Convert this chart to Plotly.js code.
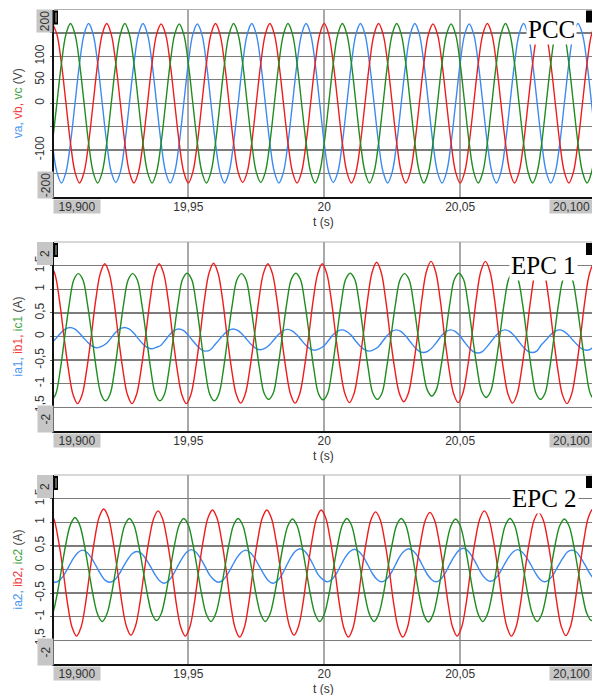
<!DOCTYPE html>
<html>
<head>
<meta charset="utf-8">
<script src="https://cdn.plot.ly/plotly-3.0.1.min.js"></script>
<style>
  html, body { margin: 0; padding: 0; background: #ffffff; }
  #chart { width: 592px; height: 695px; }
</style>
</head>
<body>
<div id="chart"></div>
<script>
// ---------------- DATA ----------------
// Samples every 30 degrees of a 50 Hz cycle (1/600 s); each series has its own start time.
const SAMPLE_DT = 0.02 / 12;

// PCC voltages (V)
const va_t0 = 19.9, vb_t0 = 19.9, vc_t0 = 19.9;
const va = [
  -85,-147,-170,-147,-85,0,85,147,170,147,85,0,
  -85,-147,-169,-147,-85,0,85,147,170,147,85,0,
  -85,-147,-170,-147,-85,0,85,147,169,147,85,0,
  -85,-147,-170,-147,-85,0,85,147,170,147,85,0,
  -85,-147,-170,-147,-85,0,85,147,170,147,85,0,
  -85,-147,-169,-147,-85,0,85,147,170,147,85,0,
  -85,-147,-170,-147,-85,0,85,147,170,147,85,0,
  -85,-147,-170,-147,-85,0,85,147,169,147,85,0,
  -85,-147,-170,-147,-85,0,85,147,170,147,85,0,
  -85,-147,-170,-147,-85,0,85,147,170,147,85,0,
  -85,-147,-170
];
const vb = [
  170,147,85,0,-85,-147,-170,-147,-85,0,85,147,
  170,147,85,0,-85,-147,-170,-147,-85,0,85,147,
  169,147,85,0,-85,-147,-170,-147,-85,0,85,147,
  170,147,85,0,-85,-147,-169,-147,-85,0,85,147,
  170,147,85,0,-85,-147,-170,-147,-85,0,85,147,
  170,147,85,0,-85,-147,-170,-147,-85,0,85,147,
  170,147,85,0,-85,-147,-170,-147,-85,0,85,147,
  169,147,85,0,-85,-147,-170,-147,-85,0,85,147,
  170,147,85,0,-85,-147,-170,-147,-85,0,85,147,
  170,147,85,0,-85,-147,-170,-147,-85,0,85,147,
  170,147,85
];
const vc = [
  -85,0,85,147,170,147,85,0,-85,-147,-170,-147,
  -85,0,85,147,170,147,85,0,-85,-147,-170,-147,
  -85,0,85,147,169,147,85,0,-85,-147,-170,-147,
  -85,0,85,147,170,147,85,0,-85,-147,-169,-147,
  -85,0,85,147,170,147,85,0,-85,-147,-170,-147,
  -85,0,85,147,170,147,85,0,-85,-147,-170,-147,
  -85,0,85,147,170,147,85,0,-85,-147,-170,-147,
  -85,0,85,147,169,147,85,0,-85,-147,-170,-147,
  -85,0,85,147,170,147,85,0,-85,-147,-170,-147,
  -85,0,85,147,170,147,85,0,-85,-147,-170,-147,
  -85,0,85
];

// EPC 1 currents (A)
const ia1_t0 = 19.89983, ib1_t0 = 19.89928, ic1_t0 = 19.89956;
const ia1 = [
  -0.13,-0.03,0.08,0.16,0.19,0.16,0.08,-0.03,-0.13,-0.21,-0.24,-0.21,
  -0.15,-0.04,0.08,0.16,0.19,0.16,0.08,-0.04,-0.15,-0.23,-0.26,-0.23,
  -0.19,-0.08,0.04,0.13,0.16,0.13,0.04,-0.08,-0.19,-0.28,-0.31,-0.28,
  -0.17,-0.06,0.05,0.13,0.16,0.13,0.05,-0.06,-0.17,-0.25,-0.28,-0.25,
  -0.18,-0.07,0.04,0.12,0.15,0.12,0.04,-0.07,-0.18,-0.26,-0.29,-0.26,
  -0.20,-0.09,0.03,0.11,0.14,0.11,0.03,-0.09,-0.20,-0.28,-0.31,-0.28,
  -0.22,-0.10,0.02,0.11,0.14,0.11,0.02,-0.10,-0.22,-0.31,-0.34,-0.31,
  -0.23,-0.11,0.02,0.11,0.14,0.11,0.02,-0.11,-0.23,-0.32,-0.35,-0.32,
  -0.22,-0.10,0.02,0.11,0.14,0.11,0.02,-0.10,-0.22,-0.31,-0.34,-0.31,
  -0.18,-0.08,0.03,0.11,0.14,0.11,0.03,-0.08,-0.18,-0.26,-0.29,-0.26,
  -0.17,-0.07,0.04
];
const ib1 = [
  1.52,1.32,0.76,0,-0.71,-1.23,-1.42,-1.23,-0.71,0,0.77,1.33,
  1.54,1.33,0.77,0,-0.71,-1.23,-1.42,-1.23,-0.71,0,0.77,1.33,
  1.54,1.33,0.77,0,-0.71,-1.23,-1.42,-1.23,-0.71,0,0.78,1.34,
  1.55,1.34,0.78,0,-0.70,-1.22,-1.41,-1.22,-0.70,0,0.77,1.33,
  1.54,1.33,0.77,0,-0.70,-1.22,-1.41,-1.22,-0.70,0,0.77,1.33,
  1.54,1.33,0.77,0,-0.70,-1.21,-1.40,-1.21,-0.70,0,0.78,1.36,
  1.57,1.36,0.78,0,-0.69,-1.20,-1.38,-1.20,-0.69,0,0.80,1.38,
  1.59,1.38,0.80,0,-0.70,-1.21,-1.40,-1.21,-0.70,0,0.80,1.38,
  1.59,1.38,0.80,0,-0.70,-1.22,-1.41,-1.22,-0.70,0,0.78,1.36,
  1.57,1.36,0.78,0,-0.71,-1.23,-1.42,-1.23,-0.71,0,0.78,1.34,
  1.55,1.34,0.78
];
const ic1 = [
  -1.36,-1.22,-0.71,0,0.69,1.20,1.33,1.20,0.69,0,-0.71,-1.22,
  -1.36,-1.22,-0.71,0,0.69,1.20,1.33,1.20,0.69,0,-0.71,-1.22,
  -1.36,-1.22,-0.71,0,0.70,1.21,1.34,1.21,0.70,0,-0.71,-1.22,
  -1.36,-1.22,-0.71,0,0.69,1.20,1.33,1.20,0.69,0,-0.69,-1.20,
  -1.33,-1.20,-0.69,0,0.70,1.21,1.34,1.21,0.70,0,-0.70,-1.21,
  -1.34,-1.21,-0.70,0,0.70,1.21,1.34,1.21,0.70,0,-0.69,-1.20,
  -1.33,-1.20,-0.69,0,0.69,1.20,1.33,1.20,0.69,0,-0.66,-1.13,
  -1.26,-1.13,-0.66,0,0.70,1.21,1.34,1.21,0.70,0,-0.67,-1.16,
  -1.29,-1.16,-0.67,0,0.71,1.22,1.36,1.22,0.71,0,-0.69,-1.20,
  -1.33,-1.20,-0.69,0,0.70,1.21,1.34,1.21,0.70,0,-0.70,-1.21,
  -1.34,-1.21,-0.70
];

// EPC 2 currents (A)
const ia2_t0 = 19.89944, ib2_t0 = 19.89889, ic2_t0 = 19.89833;
const ia2 = [
  -0.22,-0.27,-0.22,-0.10,0.07,0.24,0.36,0.41,0.36,0.24,0.07,-0.10,
  -0.23,-0.27,-0.23,-0.11,0.06,0.22,0.34,0.38,0.34,0.22,0.06,-0.11,
  -0.24,-0.29,-0.24,-0.11,0.07,0.24,0.37,0.42,0.37,0.24,0.07,-0.11,
  -0.22,-0.27,-0.22,-0.10,0.07,0.24,0.36,0.41,0.36,0.24,0.07,-0.10,
  -0.24,-0.29,-0.24,-0.11,0.08,0.26,0.39,0.44,0.39,0.26,0.08,-0.11,
  -0.21,-0.26,-0.21,-0.09,0.09,0.26,0.38,0.43,0.38,0.26,0.09,-0.09,
  -0.21,-0.26,-0.21,-0.09,0.09,0.27,0.39,0.44,0.39,0.27,0.09,-0.09,
  -0.21,-0.26,-0.21,-0.08,0.10,0.27,0.40,0.45,0.40,0.27,0.10,-0.08,
  -0.20,-0.25,-0.20,-0.08,0.09,0.25,0.37,0.42,0.37,0.25,0.09,-0.08,
  -0.21,-0.26,-0.21,-0.09,0.08,0.24,0.37,0.41,0.37,0.24,0.08,-0.09,
  -0.21,-0.26,-0.21
];
const ib2 = [
  1.24,1.07,0.62,0,-0.71,-1.22,-1.41,-1.22,-0.71,0,0.64,1.11,
  1.28,1.11,0.64,0,-0.70,-1.20,-1.39,-1.20,-0.70,0,0.62,1.07,
  1.24,1.07,0.62,0,-0.71,-1.22,-1.41,-1.22,-0.71,0,0.63,1.09,
  1.26,1.09,0.63,0,-0.72,-1.24,-1.43,-1.24,-0.72,0,0.63,1.09,
  1.26,1.09,0.63,0,-0.70,-1.20,-1.39,-1.20,-0.70,0,0.63,1.09,
  1.26,1.09,0.63,0,-0.72,-1.24,-1.43,-1.24,-0.72,0,0.61,1.06,
  1.22,1.06,0.61,0,-0.72,-1.24,-1.43,-1.24,-0.72,0,0.61,1.05,
  1.21,1.05,0.61,0,-0.71,-1.22,-1.41,-1.22,-0.71,0,0.62,1.07,
  1.24,1.07,0.62,0,-0.71,-1.22,-1.41,-1.22,-0.71,0,0.61,1.05,
  1.21,1.05,0.61,0,-0.70,-1.21,-1.40,-1.21,-0.70,0,0.64,1.11,
  1.28,1.11,0.64
];
const ic2 = [
  -1.10,-0.95,-0.55,0,0.55,0.95,1.10,0.95,0.55,0,-0.55,-0.95,
  -1.10,-0.95,-0.55,0,0.54,0.94,1.08,0.94,0.54,0,-0.54,-0.94,
  -1.08,-0.94,-0.54,0,0.54,0.94,1.08,0.94,0.54,0,-0.55,-0.95,
  -1.10,-0.95,-0.55,0,0.54,0.94,1.08,0.94,0.54,0,-0.55,-0.95,
  -1.10,-0.95,-0.55,0,0.54,0.93,1.07,0.93,0.54,0,-0.55,-0.95,
  -1.10,-0.95,-0.55,0,0.54,0.94,1.08,0.94,0.54,0,-0.55,-0.95,
  -1.10,-0.95,-0.55,0,0.54,0.94,1.08,0.94,0.54,0,-0.56,-0.96,
  -1.11,-0.96,-0.56,0,0.54,0.93,1.07,0.93,0.54,0,-0.55,-0.95,
  -1.10,-0.95,-0.55,0,0.54,0.94,1.08,0.94,0.54,0,-0.55,-0.95,
  -1.10,-0.95,-0.55,0,0.54,0.93,1.07,0.93,0.54,0,-0.54,-0.94,
  -1.08,-0.94,-0.54
];

// Axis ticks and labels
const timeTickVals = [19.95, 20, 20.05];
const timeTickText = ['19,95', '20', '20,05'];
const timeRangeLabels = ['19,900', '20,100'];
const timeTitle = 't (s)';
const vTickVals = [150, 100, 50, 0, -50, -100, -150];
const vTickText = ['', '100', '50', '0', '', '-100', ''];
const vRangeLabels = ['200', '-200'];
const iTickVals = [1.5, 1, 0.5, 0, -0.5, -1, -1.5];
const iTickText = ['1,5', '1', '0,5', '0', '-0,5', '-1', '-1,5'];
const iRangeLabels = ['2', '-2'];
const panelNames = ['PCC', 'EPC 1', 'EPC 2'];

// ---------------- STYLE / LAYOUT ----------------
const W = 592, H = 695;
const px = v => v / W;
const py = v => 1 - v / H;
const BLUE = '#3a8af2', RED = '#ee1c1c', GREEN = '#1e8c1e';
const TBLUE = '#4a95ee', TRED = '#f04040', TGREEN = '#3fa33f';
const LEFT = 54;
const panels = [
  { top: 9.5, bottom: 197, range: [-200, 200], tv: vTickVals, tt: vTickText, rl: vRangeLabels,
    title: `<span style="color:${TBLUE}">va, </span><span style="color:${TRED}">vb, </span><span style="color:${TGREEN}">vc</span> (V)`,
    nameX: 551, nameY: 30 },
  { top: 242, bottom: 431, range: [-2, 2], tv: iTickVals, tt: iTickText, rl: iRangeLabels,
    title: `<span style="color:${TBLUE}">ia1, </span><span style="color:${TRED}">ib1, </span><span style="color:${TGREEN}">ic1</span> (A)`,
    nameX: 543, nameY: 265 },
  { top: 475, bottom: 664, range: [-2, 2], tv: iTickVals, tt: iTickText, rl: iRangeLabels,
    title: `<span style="color:${TBLUE}">ia2, </span><span style="color:${TRED}">ib2, </span><span style="color:${TGREEN}">ic2</span> (A)`,
    nameX: 544, nameY: 498 }
];

const seriesSets = [
  [[va, va_t0, BLUE], [vb, vb_t0, RED], [vc, vc_t0, GREEN]],
  [[ia1, ia1_t0, BLUE], [ib1, ib1_t0, RED], [ic1, ic1_t0, GREEN]],
  [[ia2, ia2_t0, BLUE], [ib2, ib2_t0, RED], [ic2, ic2_t0, GREEN]]
];

const traces = [];
seriesSets.forEach((set, i) => {
  const sfx = i === 0 ? '' : String(i + 1);
  set.forEach(([y, t0, color]) => {
    traces.push({
      type: 'scatter', mode: 'lines',
      x0: t0, dx: SAMPLE_DT, y: y,
      xaxis: 'x' + sfx, yaxis: 'y' + sfx,
      line: { color: color, width: 1.4, shape: 'spline', smoothing: 1 },
      hoverinfo: 'skip', showlegend: false
    });
  });
});

const tickFont = { family: 'Liberation Sans, Arial, sans-serif', size: 12, color: '#333' };
const layout = {
  width: W, height: H,
  margin: { l: 0, r: 0, t: 0, b: 0 },
  paper_bgcolor: '#ffffff', plot_bgcolor: '#ffffff',
  showlegend: false,
  annotations: [], shapes: []
};

panels.forEach((p, i) => {
  const sfx = i === 0 ? '' : String(i + 1);
  const dom = [py(p.bottom), py(p.top)];
  layout['xaxis' + sfx] = {
    domain: [px(LEFT), 1], range: [19.9006, 20.0985], anchor: 'y' + sfx,
    tickvals: timeTickVals, ticktext: timeTickText, tickfont: tickFont,
    ticklabelstandoff: -2,
    showgrid: true, gridcolor: '#a9a9a9', gridwidth: 2,
    showline: true, linecolor: '#111', linewidth: 2,
    ticks: '', zeroline: false, automargin: false, fixedrange: true
  };
  layout['yaxis' + sfx] = {
    domain: dom, range: p.range, anchor: 'x' + sfx,
    tickvals: p.tv, ticktext: p.tt, tickfont: tickFont, tickangle: -90,
    showgrid: true, gridcolor: '#7c7c7c', gridwidth: 1.3,
    showline: true, linecolor: '#111', linewidth: 2,
    ticks: 'outside', ticklen: 2, tickcolor: '#666', tickwidth: 1,
    ticklabelstandoff: 1,
    zeroline: false, automargin: false, fixedrange: true,
    title: { text: p.title, font: { family: 'Liberation Sans, Arial, sans-serif', size: 12, color: '#444' }, standoff: 8 }
  };
  // time-axis title, placed under the tick labels as in the reference
  layout.annotations.push({ xref: 'paper', yref: 'paper', x: px((LEFT + W) / 2), y: py(p.bottom + 25),
    text: timeTitle, showarrow: false, font: tickFont, borderpad: 0, xanchor: 'center', yanchor: 'middle' });
  // top border
  layout.shapes.push({ type: 'line', xref: 'paper', yref: 'paper',
    x0: px(LEFT), x1: 1, y0: py(p.top), y1: py(p.top), line: { color: '#b0b0b0', width: 1 } });
  // cursor markers
  layout.shapes.push({ type: 'rect', xref: 'paper', yref: 'paper',
    x0: px(LEFT), x1: px(LEFT + 4), y0: py(p.top + 15), y1: py(p.top + 1),
    fillcolor: '#000', line: { width: 0 } });
  layout.shapes.push({ type: 'line', xref: 'paper', yref: 'paper',
    x0: px(LEFT + 2), x1: px(LEFT + 2), y0: py(p.top + 13), y1: py(p.top + 3),
    line: { color: '#bbb', width: 1 } });
  layout.shapes.push({ type: 'rect', xref: 'paper', yref: 'paper',
    x0: px(586), x1: 1, y0: py(p.top + 13), y1: py(p.top + 1),
    fillcolor: '#000', line: { width: 0 } });
  // range boxes on the time axis
  layout.annotations.push({ xref: 'paper', yref: 'paper', x: px(77), y: py(p.bottom + 9.5),
    text: timeRangeLabels[0], showarrow: false, font: tickFont, bgcolor: '#c6c6c6',
    width: 46, height: 13, borderpad: 0, xanchor: 'center', yanchor: 'middle' });
  layout.annotations.push({ xref: 'paper', yref: 'paper', x: px(571), y: py(p.bottom + 9.5),
    text: timeRangeLabels[1], showarrow: false, font: tickFont, bgcolor: '#c6c6c6',
    width: 43, height: 13, borderpad: 0, xanchor: 'center', yanchor: 'middle' });
  // range boxes on the value axis
  layout.annotations.push({ xref: 'paper', yref: 'paper', x: px(45), y: py(p.top + 11.5),
    text: p.rl[0], textangle: -90, showarrow: false, font: tickFont, bgcolor: '#c6c6c6',
    width: 22, height: 15, borderpad: 0, xanchor: 'center', yanchor: 'middle' });
  layout.annotations.push({ xref: 'paper', yref: 'paper', x: px(45), y: py(p.bottom - 12),
    text: p.rl[1], textangle: -90, showarrow: false, font: tickFont, bgcolor: '#c6c6c6',
    width: 26, height: 15, borderpad: 0, xanchor: 'center', yanchor: 'middle' });
  // panel name
  layout.annotations.push({ xref: 'paper', yref: 'paper', x: px(p.nameX), y: py(p.nameY),
    text: panelNames[i], showarrow: false,
    font: { family: 'Liberation Serif, Times New Roman, serif', size: 25, color: '#000' },
    bgcolor: '#ffffff', borderpad: 1, xanchor: 'center', yanchor: 'middle' });
});

Plotly.newPlot('chart', traces, layout, { staticPlot: true, displayModeBar: false });
</script>
</body>
</html>
